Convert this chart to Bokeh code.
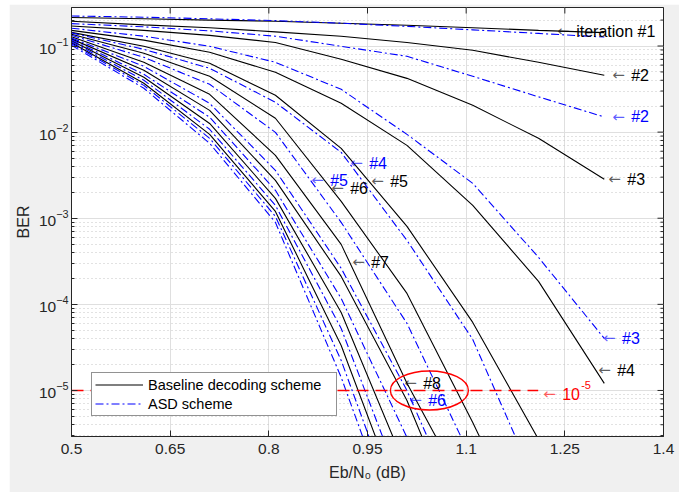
import math
from bokeh.plotting import figure
from bokeh.layouts import column, row
from bokeh.models import (Range1d, FixedTicker, Legend, LegendItem, Spacer,
                          CustomJSTickFormatter, Label)
from bokeh.embed import file_html
from bokeh.resources import INLINE

# ---------------- data ----------------
ebn0_db = [0.5, 0.61, 0.71, 0.81, 0.91, 1.01, 1.11, 1.21, 1.31]

ber_base_1 = [0.214, 0.207, 0.200, 0.194, 0.184, 0.174, 0.163, 0.152, 0.143]
ber_base_2 = [0.194, 0.176, 0.163, 0.146, 0.130, 0.110, 0.0891, 0.0647, 0.0457]
ber_base_3 = [0.171, 0.152, 0.133, 0.110, 0.0701, 0.0421, 0.0205, 0.00847, 0.00283]
ber_base_4 = [0.152, 0.117, 0.0845, 0.0495, 0.0216, 0.00702, 0.00141, 1.85e-4, 1.21e-5]
ber_base_5 = [0.144, 0.0992, 0.0630, 0.0268, 0.00648, 8.04e-4, 6.17e-5, 2.70e-6]
ber_base_6 = [0.137, 0.0823, 0.0445, 0.0145, 0.00157, 1.34e-4, 4.25e-6, 1.06e-7]
ber_base_7 = [0.128, 0.0647, 0.0275, 0.00537, 4.97e-4, 1.21e-5, 4.7e-7]
ber_base_8 = [0.121, 0.0522, 0.0179, 0.00275, 2.11e-4, 7.66e-6, 1.1e-7]
ber_base_9 = [0.115, 0.0433, 0.0126, 0.00170, 8.06e-5, 1.18e-6]
ber_base_10 = [0.109, 0.0369, 0.00942, 0.00120, 3.33e-5, 3.1e-7]

ber_asd_1 = [0.223, 0.216, 0.207, 0.197, 0.184, 0.169, 0.154, 0.140, 0.127]
ber_asd_2 = [0.182, 0.167, 0.150, 0.130, 0.0992, 0.0759, 0.0445, 0.0257, 0.0150]
ber_asd_3 = [0.161, 0.130, 0.0992, 0.0647, 0.0314, 0.00942, 0.00254, 3.51e-4, 4.02e-5]
ber_asd_4 = [0.142, 0.0915, 0.0551, 0.0222, 0.00582, 5.53e-4, 3.91e-5, 7.1e-7]
ber_asd_5 = [0.133, 0.0739, 0.0359, 0.00994, 8.95e-4, 6.01e-5, 1.50e-6]
ber_asd_6 = [0.124, 0.0581, 0.0216, 0.00360, 2.62e-4, 1.00e-5, 1.8e-7]
ber_asd_7 = [0.118, 0.0469, 0.0149, 0.00211, 1.17e-4, 2.85e-6]
ber_asd_8 = [0.112, 0.0400, 0.0108, 0.00141, 5.25e-5, 5.3e-7]
ber_asd_9 = [0.106, 0.0349, 0.00847, 0.00105, 2.23e-5, 1.8e-7]
ber_asd_10 = [0.102, 0.0323, 0.00741, 8.95e-4, 1.42e-5, 1.1e-7]

baseline_curves = [ber_base_1, ber_base_2, ber_base_3, ber_base_4, ber_base_5,
                   ber_base_6, ber_base_7, ber_base_8, ber_base_9, ber_base_10]
asd_curves = [ber_asd_1, ber_asd_2, ber_asd_3, ber_asd_4, ber_asd_5,
              ber_asd_6, ber_asd_7, ber_asd_8, ber_asd_9, ber_asd_10]

legend_labels = ["Baseline decoding scheme", "ASD scheme"]

x_tick_values = [0.5, 0.65, 0.8, 0.95, 1.1, 1.25, 1.4]
y_tick_values = [1e-5, 1e-4, 1e-3, 1e-2, 1e-1]
y_minor_values = [m * 10.0 ** e for e in range(-6, 0) for m in range(2, 10)]

X_MIN, X_MAX = 0.5, 1.4
Y_MIN, Y_MAX = 2.92e-6, 0.28

target_ber = 1e-5
target_line_x = [0.5, 1.2095]
target_line_y = [target_ber, target_ber]

# annotations: (text after the arrow, x of arrow, y, colour)
annotations = [
    ("iteration #1", 1.2384, 0.149, "#000000"),
    ("#2", 1.322, 0.0457, "#000000"),
    ("#2", 1.322, 0.0150, "#0000ff"),
    ("#3", 1.316, 0.00283, "#000000"),
    ("#3", 1.308, 4.02e-5, "#0000ff"),
    ("#4", 1.3007, 1.71e-5, "#000000"),
    ("#4", 0.9237, 4.34e-3, "#0000ff"),
    ("#5", 0.9556, 2.68e-3, "#000000"),
    ("#5", 0.8644, 2.75e-3, "#0000ff"),
    ("#6", 0.8948, 2.22e-3, "#000000"),
    ("#7", 0.9267, 3.07e-4, "#000000"),
    ("#8", 1.0057, 1.21e-5, "#000000"),
    ("#6", 1.0133, 7.66e-6, "#0000ff"),
    ("10", 1.217, 8.99e-6, "#ff0000"),
]

# ---------------- styling ----------------
FONT = "Liberation Sans"
AX = "#262626"

p = figure(width=670, height=488,
           x_range=Range1d(X_MIN, X_MAX), y_range=Range1d(Y_MIN, Y_MAX),
           y_axis_type="log", output_backend="svg", toolbar_location=None,
           min_border_left=62, min_border_right=16, min_border_top=3, min_border_bottom=56,
           border_fill_color="#f0f0f0", background_fill_color="#ffffff")
p.outline_line_color = AX
p.outline_line_width = 1

xt = FixedTicker(ticks=x_tick_values)
yt = FixedTicker(ticks=y_tick_values, minor_ticks=y_minor_values)
p.xaxis.ticker = xt
p.yaxis.ticker = yt
p.xaxis.formatter = CustomJSTickFormatter(code="return tick.toFixed(2).replace(/0$/, '');")

for ax in (p.xaxis[0], p.yaxis[0]):
    ax.axis_line_color = AX
    ax.major_tick_in = 6
    ax.major_tick_out = 0
    ax.minor_tick_in = 3
    ax.minor_tick_out = 0
    ax.major_tick_line_color = AX
    ax.minor_tick_line_color = AX
    ax.major_label_text_font = FONT
    ax.major_label_text_font_size = "15.5px"
    ax.major_label_text_color = AX
    ax.axis_label_text_font = FONT
    ax.axis_label_text_font_size = "16px"
    ax.axis_label_text_font_style = "normal"
    ax.axis_label_text_color = AX

p.xaxis.axis_label = "Eb/N\u2080 (dB)"
p.yaxis.axis_label = "BER"
p.xaxis.major_label_standoff = 7
p.yaxis.major_label_standoff = 3
p.xaxis.axis_label_standoff = 7
p.yaxis.axis_label_standoff = 4

p.xgrid.grid_line_color = "#dfdfdf"
p.ygrid.grid_line_color = "#dfdfdf"
p.ygrid.minor_grid_line_color = "#c4c4c4"
p.ygrid.minor_grid_line_dash = "1 3"

# mirrored tick marks on the top and right edges of the box
p.scatter([X_MAX] * len(y_tick_values), y_tick_values, marker="dash", size=12,
          line_color=AX, line_width=1)
y_minor_in = [v for v in y_minor_values if Y_MIN < v < Y_MAX]
p.scatter([X_MAX] * len(y_minor_in), y_minor_in, marker="dash", size=6,
          line_color=AX, line_width=1)
p.scatter(x_tick_values, [Y_MAX] * len(x_tick_values), marker="dash", size=12,
          angle=math.pi / 2, line_color=AX, line_width=1)

# ---------------- curves ----------------
base_renderers = []
for ber in baseline_curves:
    r = p.line(ebn0_db[:len(ber)], ber, line_color="#000000", line_width=1.1)
    base_renderers.append(r)

asd_renderers = []
for ber in asd_curves:
    r = p.line(ebn0_db[:len(ber)], ber, line_color="#0000ff", line_width=1.1,
               line_dash="8 3 2 3")
    asd_renderers.append(r)

p.line(target_line_x, target_line_y, line_color="#ff0000", line_width=1.5, line_dash="12 7")
p.ellipse(x=[1.0441], y=[target_ber], width=78, height=39, width_units="screen",
          height_units="screen", fill_color=None, line_color="#ff0000", line_width=1.4)

for text, x, y, col in annotations:
    p.add_layout(Label(x=x, y=y, text="\u2190", text_font="DejaVu Sans",
                       text_font_size="15px", text_color=col, text_alpha=0.65,
                       text_baseline="middle", text_align="left"))
    p.add_layout(Label(x=x, y=y, x_offset=19, text=text, text_font=FONT,
                       text_font_size="16px", text_color=col,
                       text_baseline="middle", text_align="left"))
# superscript of the red "10^-5" note
p.add_layout(Label(x=1.217, y=8.99e-6, x_offset=38, y_offset=9, text="-5", text_font=FONT,
                   text_font_size="11px", text_color="#ff0000",
                   text_baseline="middle", text_align="left"))

legend = Legend(items=[LegendItem(label=legend_labels[0], renderers=[base_renderers[0]]),
                       LegendItem(label=legend_labels[1], renderers=[asd_renderers[0]])],
                location=(20, 20))
legend.label_text_font = FONT
legend.label_text_font_size = "14.5px"
legend.label_text_color = "#000000"
legend.border_line_color = AX
legend.border_line_width = 1
legend.background_fill_color = "#ffffff"
legend.background_fill_alpha = 1
legend.glyph_width = 48
legend.glyph_height = 17
legend.label_height = 17
legend.label_width = 185
legend.label_standoff = 5
legend.padding = 3
legend.spacing = 2
legend.margin = 0
p.add_layout(legend)

page = column(Spacer(height=4), row(Spacer(width=9), p, spacing=0), spacing=0)
open("out.html", "w").write(file_html(page, INLINE))
